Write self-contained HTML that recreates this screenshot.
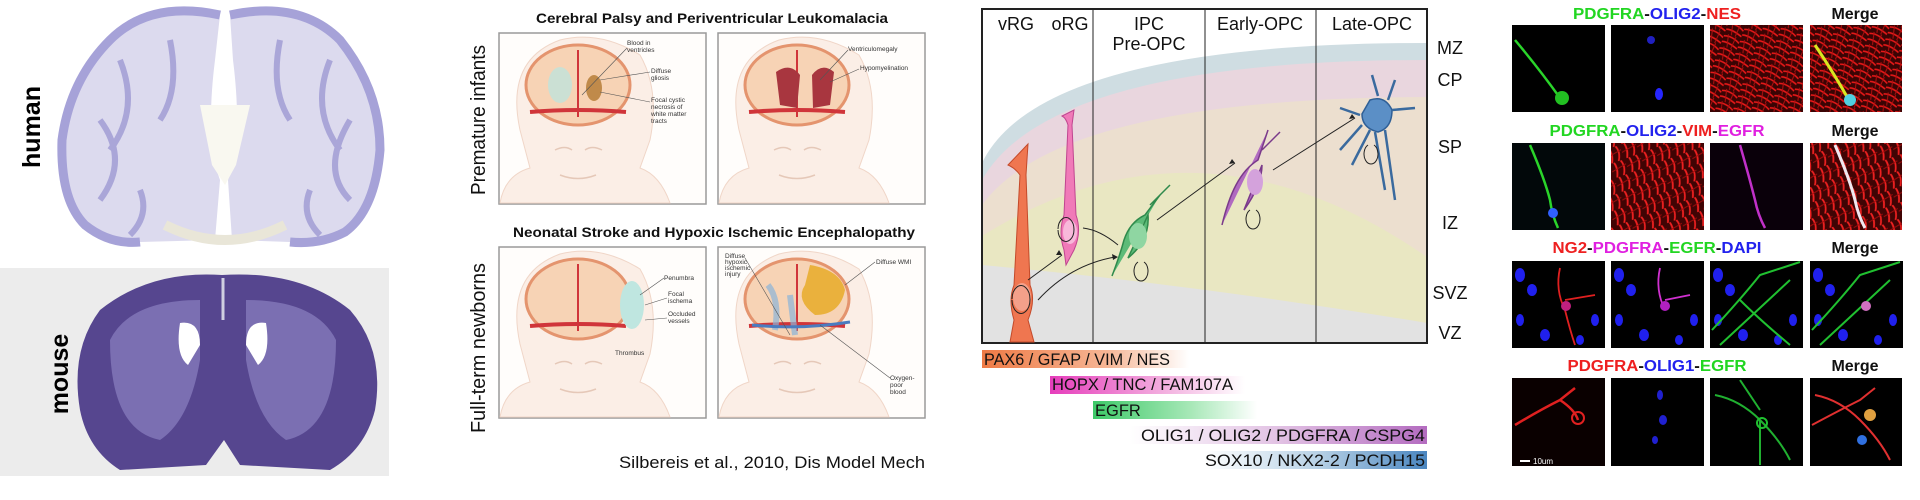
<!DOCTYPE html>
<html><head><meta charset="utf-8"><style>
html,body{margin:0;padding:0;background:#fff;}
svg{display:block;}
text{font-family:"Liberation Sans",sans-serif;}
</style></head><body>
<svg width="1920" height="500" viewBox="0 0 1920 500" xmlns="http://www.w3.org/2000/svg">
<defs>
<pattern id="redtex" width="17" height="13" patternUnits="userSpaceOnUse" patternTransform="rotate(20)">
<rect width="17" height="13" fill="#3a0404"/>
<path d="M0,3 Q8,0 17,5 M0,9 Q6,7 17,11" stroke="#e81818" stroke-width="1.6" fill="none"/>
<path d="M4,0 L7,13 M12,0 L11,13" stroke="#b01010" stroke-width="1"/>
</pattern>
<pattern id="redtex2" width="15" height="16" patternUnits="userSpaceOnUse" patternTransform="rotate(70)">
<rect width="15" height="16" fill="#400404"/>
<path d="M0,4 Q7,1 15,6 M0,11 Q7,9 15,13" stroke="#ee2020" stroke-width="1.8" fill="none"/>
<path d="M5,0 L8,16" stroke="#a00c0c" stroke-width="1"/>
</pattern>
<linearGradient id="gPax" x1="0" x2="1"><stop offset="0" stop-color="#ee7a45"/><stop offset="0.6" stop-color="#f6b594"/><stop offset="1" stop-color="#fff"/></linearGradient>
<linearGradient id="gHop" x1="0" x2="1"><stop offset="0" stop-color="#e63dbb"/><stop offset="0.6" stop-color="#f3b2e0"/><stop offset="1" stop-color="#fff"/></linearGradient>
<linearGradient id="gEgf" x1="0" x2="1"><stop offset="0" stop-color="#3dc968"/><stop offset="0.6" stop-color="#a8e8b8"/><stop offset="1" stop-color="#fff"/></linearGradient>
<linearGradient id="gOli" x1="0" x2="1"><stop offset="0" stop-color="#fff"/><stop offset="0.5" stop-color="#e2c2e4"/><stop offset="1" stop-color="#b46cc0"/></linearGradient>
<linearGradient id="gSox" x1="0" x2="1"><stop offset="0" stop-color="#fff"/><stop offset="0.5" stop-color="#b9d2e6"/><stop offset="1" stop-color="#4a86c0"/></linearGradient>
</defs>

<!-- ===== Panel 1: brains ===== -->
<text transform="translate(40,127) rotate(-90)" text-anchor="middle" font-size="25" font-weight="bold" fill="#000">human</text>
<path d="M220,15 Q150,0 110,40 Q70,80 62,140 Q60,200 85,225 Q110,245 140,242 L215,240 L220,180 Q205,140 215,60 Z" fill="#dcdaee"/>
<path d="M230,15 Q300,0 340,40 Q380,90 380,150 Q375,210 345,232 Q320,245 290,242 L232,240 L228,180 Q243,140 233,60 Z" fill="#dcdaee"/>
<path d="M220,15 Q150,0 110,40 Q70,80 62,140 Q60,200 85,225 Q110,245 140,242 M230,15 Q300,0 340,40 Q380,90 380,150 Q375,210 345,232 Q320,245 290,242" fill="none" stroke="#a6a2d8" stroke-width="9"/>
<path d="M120,60 Q140,110 110,150 M100,120 Q130,160 100,200 M330,60 Q310,110 340,150 M350,120 Q320,170 350,200 M170,40 Q180,90 160,120 M280,40 Q270,90 290,120 M140,190 Q150,215 130,235 M310,190 Q300,215 320,235" fill="none" stroke="#aaa6d8" stroke-width="6"/>
<path d="M200,105 L250,105 L236,165 L225,185 L212,165 Z" fill="#f9f8f0"/>
<path d="M165,225 Q225,255 285,225" stroke="#e9e6d8" stroke-width="10" fill="none"/>

<rect x="0" y="268" width="389" height="208" fill="#ececec"/>
<text transform="translate(68,374) rotate(-90)" text-anchor="middle" font-size="25" font-weight="bold" fill="#000">mouse</text>
<path d="M222,275 Q300,270 350,310 Q385,350 375,410 Q365,450 330,470 L240,465 L224,440 L206,465 L120,470 Q88,450 80,410 Q70,350 100,310 Q150,270 222,275 Z" fill="#56468f"/>
<path d="M110,340 Q130,300 200,300 L200,360 Q190,420 160,440 Q110,430 110,340 Z M336,340 Q316,300 246,300 L246,360 Q256,420 286,440 Q336,430 336,340 Z" fill="#7b6fb2"/>
<path d="M180,323 Q200,320 200,345 L188,365 Q175,355 180,323 Z M266,323 Q246,320 246,345 L258,365 Q271,355 266,323 Z" fill="#fff"/>
<path d="M223,278 L223,320" stroke="#cfcfe0" stroke-width="3"/>

<!-- ===== Panel 2: illustrations ===== -->
<text x="712" y="23" text-anchor="middle" font-size="14" font-weight="bold" fill="#111" textLength="352" lengthAdjust="spacingAndGlyphs">Cerebral Palsy and Periventricular Leukomalacia</text>
<text transform="translate(485,120) rotate(-90)" text-anchor="middle" font-size="20" fill="#111" textLength="150" lengthAdjust="spacingAndGlyphs">Premature infants</text>
<text x="714" y="237" text-anchor="middle" font-size="14" font-weight="bold" fill="#111" textLength="402" lengthAdjust="spacingAndGlyphs">Neonatal Stroke and Hypoxic Ischemic Encephalopathy</text>
<text transform="translate(485,348) rotate(-90)" text-anchor="middle" font-size="20" fill="#111" textLength="170" lengthAdjust="spacingAndGlyphs">Full-term newborns</text>
<text x="925" y="468" text-anchor="end" font-size="17" fill="#111" textLength="306" lengthAdjust="spacingAndGlyphs">Silbereis et al., 2010, Dis Model Mech</text>

<g id="b1">
<rect x="499" y="33" width="207" height="171" fill="#fffdfb" stroke="#9a9a9a" stroke-width="1.5"/>
<path d="M500,203 Q505,175 530,168 L520,130 Q505,60 560,40 Q600,30 640,55 Q660,90 650,140 L640,168 Q660,175 670,203 Z" fill="#fbeee6" stroke="#f0d6c8"/>
<ellipse cx="578" cy="85" rx="52" ry="40" fill="#f7d3b5" stroke="#e4946e" stroke-width="3"/>
<path d="M530,112 Q578,108 626,112" stroke="#d0353a" stroke-width="4" fill="none"/>
<path d="M578,50 L578,117" stroke="#d0353a" stroke-width="2"/>
<path d="M560,175 Q578,182 596,175 M555,150 Q565,145 572,150 M585,150 Q592,145 602,150" stroke="#e5c8b8" stroke-width="1.5" fill="none"/>
</g>
<ellipse cx="560" cy="85" rx="12" ry="18" fill="#bfe4dc" opacity="0.8"/>
<ellipse cx="594" cy="88" rx="8" ry="13" fill="#c08a4a"/>
<text font-size="6.5" fill="#333"><tspan x="627" y="45">Blood in</tspan><tspan x="627" y="52">ventricles</tspan><tspan x="651" y="73">Diffuse</tspan><tspan x="651" y="80">gliosis</tspan><tspan x="651" y="102">Focal cystic</tspan><tspan x="651" y="109">necrosis of</tspan><tspan x="651" y="116">white matter</tspan><tspan x="651" y="123">tracts</tspan></text>
<path d="M627,48 L582,95 M650,72 L600,80 M650,102 L600,92" stroke="#555" stroke-width="0.6"/>

<use href="#b1" x="219"/>
<path d="M776,72 Q790,62 800,75 L797,108 L780,105 Z M812,75 Q822,62 834,72 L830,105 L813,108 Z" fill="#a8363f"/>
<text font-size="6.5" fill="#333"><tspan x="848" y="51">Ventriculomegaly</tspan><tspan x="860" y="70">Hypomyelination</tspan></text>
<path d="M848,50 L820,80 M859,69 L830,82" stroke="#555" stroke-width="0.6"/>

<use href="#b1" y="214"/>
<ellipse cx="632" cy="305" rx="12" ry="24" fill="#bfe6e0"/>
<text font-size="6.5" fill="#333"><tspan x="664" y="280">Penumbra</tspan><tspan x="668" y="296">Focal</tspan><tspan x="668" y="303">ischema</tspan><tspan x="668" y="316">Occluded</tspan><tspan x="668" y="323">vessels</tspan><tspan x="615" y="355">Thrombus</tspan></text>
<path d="M664,278 L640,295 M667,298 L645,305 M667,318 L645,320" stroke="#555" stroke-width="0.6"/>

<use href="#b1" x="219" y="214"/>
<path d="M810,265 Q840,270 845,290 Q840,315 815,315 Q795,300 805,285 Z" fill="#e8aa28" opacity="0.85"/>
<path d="M768,285 Q780,300 775,330 M790,295 L795,335" stroke="#8ab4d8" stroke-width="6" fill="none" opacity="0.7"/>
<path d="M752,325 Q800,330 850,322" stroke="#4a7cc0" stroke-width="3" fill="none"/>
<text font-size="6.5" fill="#333"><tspan x="725" y="258">Diffuse</tspan><tspan x="725" y="264">hypoxic</tspan><tspan x="725" y="270">ischemic</tspan><tspan x="725" y="276">injury</tspan><tspan x="876" y="264">Diffuse WMI</tspan><tspan x="890" y="380">Oxygen-</tspan><tspan x="890" y="387">poor</tspan><tspan x="890" y="394">blood</tspan></text>
<path d="M745,258 L790,335 M875,262 L845,285 M890,378 L820,325" stroke="#555" stroke-width="0.6"/>

<!-- ===== Panel 3: diagram ===== -->
<rect x="982" y="9" width="445" height="334" fill="#fff"/>
<path d="M982,163 Q1040,43 1427,43 L1427,343 L982,343 Z" fill="#cfdde2"/>
<path d="M982,180 Q1050,60 1427,60 L1427,343 L982,343 Z" fill="#e9d6de"/>
<path d="M982,205 Q1060,98 1427,97 L1427,343 L982,343 Z" fill="#ecdfcf"/>
<path d="M982,236 Q1200,100 1427,257 L1427,343 L982,343 Z" fill="#e9e7c2"/>
<path d="M982,265 Q1200,285 1427,323 L1427,343 L982,343 Z" fill="#e2e2e2"/>
<rect x="982" y="9" width="445" height="334" fill="none" stroke="#222" stroke-width="2"/>
<path d="M1093,10 V343 M1205,10 V343 M1316,10 V343" stroke="#222" stroke-width="1"/>
<g font-size="18" fill="#111" text-anchor="middle">
<text x="1016" y="30">vRG</text><text x="1070" y="30">oRG</text>
<text x="1149" y="30">IPC</text><text x="1149" y="50">Pre-OPC</text>
<text x="1260" y="30">Early-OPC</text><text x="1372" y="30">Late-OPC</text>
<text x="1450" y="54">MZ</text><text x="1450" y="86">CP</text><text x="1450" y="153">SP</text>
<text x="1450" y="229">IZ</text><text x="1450" y="299">SVZ</text><text x="1450" y="339">VZ</text>
</g>
<path d="M1010,342 L1014,320 Q1008,300 1014,285 L1020,175 Q1015,168 1008,165 L1028,144 L1026,175 L1030,285 Q1036,300 1028,320 L1034,342 Z" fill="#ef7650" stroke="#c44a2a" stroke-width="1"/>
<ellipse cx="1022" cy="297" rx="9" ry="14" fill="#f4a08a"/>
<path d="M1066,265 L1064,250 Q1058,232 1064,215 L1068,125 Q1066,118 1062,116 L1074,110 L1072,125 L1076,215 Q1082,232 1074,250 Z" fill="#f07ab8" stroke="#c04590" stroke-width="1"/>
<ellipse cx="1070" cy="232" rx="7" ry="12" fill="#f8b8da"/>
<path d="M1112,276 Q1120,255 1124,240 Q1130,222 1145,215 L1160,195 M1150,205 L1170,185 M1148,215 Q1150,240 1128,258 Z" fill="#5dbb78" stroke="#2f8a4c" stroke-width="1.5"/>
<ellipse cx="1138" cy="236" rx="9" ry="13" fill="#8fd6a2"/>
<path d="M1222,225 Q1228,200 1236,185 Q1245,168 1258,160 L1268,130 M1262,150 L1280,132 M1262,165 Q1262,185 1244,210 Z" fill="#b06ac0" stroke="#7a3a8a" stroke-width="1.5"/>
<ellipse cx="1255" cy="182" rx="8" ry="13" fill="#d4a2dc"/>
<path d="M1370,100 Q1385,95 1392,110 Q1392,128 1378,132 Q1362,128 1362,114 Z" fill="#5b8fc6" stroke="#2f5f96" stroke-width="1.5"/>
<path d="M1360,115 L1340,108 M1362,125 L1340,150 M1385,130 L1395,200 M1375,132 L1385,190 M1392,110 L1415,108 M1378,96 L1372,75 M1388,100 L1395,80 M1370,130 L1352,165" stroke="#3a6a9e" stroke-width="2.5" fill="none"/>
<g stroke="#222" stroke-width="1" fill="none">
<path d="M1028,280 L1062,255 M1038,300 Q1070,265 1115,257 M1083,228 Q1100,230 1118,245 M1157,220 L1235,163 M1273,170 L1355,118"/>
<path d="M1012,300 a9,14 0 1,0 0,-1 M1058,230 a8,12 0 1,0 0,-1 M1138,262 a7,10 0 1,0 6,0 M1250,210 a7,10 0 1,0 6,0 M1368,145 a7,10 0 1,0 6,0"/>
</g>
<g fill="#222"><path d="M1062,255 l-6,0 l3,-5 z M1118,257 l-6,-3 l1,6 z M1235,163 l-6,1 l3,-5 z M1355,118 l-6,1 l3,-5 z"/></g>
<rect x="982" y="350" width="207" height="18" fill="url(#gPax)"/>
<rect x="1050" y="376" width="195" height="18" fill="url(#gHop)"/>
<rect x="1093" y="401" width="164" height="18" fill="url(#gEgf)"/>
<rect x="1130" y="426" width="297" height="18" fill="url(#gOli)"/>
<rect x="1205" y="451" width="222" height="18" fill="url(#gSox)"/>
<g font-size="16.5" fill="#111">
<text x="984" y="365" textLength="186" lengthAdjust="spacingAndGlyphs">PAX6 / GFAP / VIM / NES</text>
<text x="1052" y="390" textLength="181" lengthAdjust="spacingAndGlyphs">HOPX / TNC / FAM107A</text>
<text x="1095" y="416">EGFR</text>
<text x="1141" y="441" textLength="284" lengthAdjust="spacingAndGlyphs">OLIG1 / OLIG2 / PDGFRA / CSPG4</text>
<text x="1205" y="466" textLength="220" lengthAdjust="spacingAndGlyphs">SOX10 / NKX2-2 / PCDH15</text>
</g>

<!-- ===== Panel 4: microscopy ===== -->
<g font-size="16" font-weight="bold">
<text x="1657" y="19" text-anchor="middle" textLength="168" lengthAdjust="spacingAndGlyphs"><tspan fill="#22d622">PDGFRA</tspan><tspan fill="#111">-</tspan><tspan fill="#2222ee">OLIG2</tspan><tspan fill="#111">-</tspan><tspan fill="#ee2020">NES</tspan></text>
<text x="1657" y="136" text-anchor="middle" textLength="215" lengthAdjust="spacingAndGlyphs"><tspan fill="#22d622">PDGFRA</tspan><tspan fill="#111">-</tspan><tspan fill="#2222ee">OLIG2</tspan><tspan fill="#111">-</tspan><tspan fill="#ee2020">VIM</tspan><tspan fill="#111">-</tspan><tspan fill="#e020e0">EGFR</tspan></text>
<text x="1657" y="253" text-anchor="middle" textLength="209" lengthAdjust="spacingAndGlyphs"><tspan fill="#ee2020">NG2</tspan><tspan fill="#111">-</tspan><tspan fill="#e020e0">PDGFRA</tspan><tspan fill="#111">-</tspan><tspan fill="#22d622">EGFR</tspan><tspan fill="#111">-</tspan><tspan fill="#2222ee">DAPI</tspan></text>
<text x="1657" y="371" text-anchor="middle" textLength="179" lengthAdjust="spacingAndGlyphs"><tspan fill="#ee2020">PDGFRA</tspan><tspan fill="#111">-</tspan><tspan fill="#2222ee">OLIG1</tspan><tspan fill="#111">-</tspan><tspan fill="#22d622">EGFR</tspan></text>
<g fill="#111" text-anchor="middle"><text x="1855" y="19">Merge</text><text x="1855" y="136">Merge</text><text x="1855" y="253">Merge</text><text x="1855" y="371">Merge</text></g>
</g>
<rect x="1512" y="25" width="93" height="87" fill="#000"/>
<path d="M1515,40 Q1540,70 1560,98" stroke="#2ad42a" stroke-width="2.5" fill="none"/><circle cx="1562" cy="98" r="7" fill="#22c022"/>
<rect x="1611" y="25" width="93" height="87" fill="#000"/>
<circle cx="1651" cy="40" r="4" fill="#2020c0"/><ellipse cx="1659" cy="94" rx="4" ry="6" fill="#2626ff"/>
<rect x="1710" y="25" width="93" height="87" fill="url(#redtex)"/>
<rect x="1810" y="25" width="92" height="87" fill="url(#redtex)"/>
<path d="M1815,45 Q1835,75 1850,102" stroke="#d8e820" stroke-width="3" fill="none"/><circle cx="1850" cy="100" r="6" fill="#50d0e0"/>
<rect x="1512" y="143" width="93" height="87" fill="#02080a"/>
<path d="M1530,145 Q1545,180 1550,200 Q1552,215 1558,228" stroke="#2ad42a" stroke-width="2.5" fill="none"/><circle cx="1553" cy="213" r="5" fill="#3060ff"/>
<rect x="1611" y="143" width="93" height="87" fill="url(#redtex2)"/>
<rect x="1710" y="143" width="93" height="87" fill="#0a000a"/>
<path d="M1740,145 Q1750,180 1755,200 Q1758,215 1765,228" stroke="#c030c8" stroke-width="2.5" fill="none"/>
<rect x="1810" y="143" width="92" height="87" fill="url(#redtex2)"/>
<path d="M1835,145 Q1850,180 1855,200 Q1858,215 1865,228" stroke="#f0e8f0" stroke-width="3" fill="none"/>
<g id="r3b">
<rect x="1512" y="261" width="93" height="87" fill="#000"/>
<ellipse cx="1520" cy="275" rx="5" ry="7" fill="#2020ee"/><ellipse cx="1532" cy="290" rx="5" ry="6" fill="#2020ee"/><ellipse cx="1520" cy="320" rx="4" ry="6" fill="#2020ee"/><ellipse cx="1545" cy="335" rx="5" ry="6" fill="#2020ee"/><ellipse cx="1595" cy="320" rx="4" ry="6" fill="#2020ee"/><ellipse cx="1580" cy="340" rx="4" ry="5" fill="#2020ee"/>
</g>
<path d="M1560,268 Q1555,290 1565,310 Q1570,330 1575,345 M1565,300 L1595,295" stroke="#e02020" stroke-width="1.8" fill="none"/><circle cx="1566" cy="306" r="5" fill="#c02080"/>
<use href="#r3b" x="99"/>
<path d="M1660,268 Q1655,290 1665,310 M1665,300 L1690,295" stroke="#d030d0" stroke-width="1.8" fill="none"/><circle cx="1665" cy="306" r="5" fill="#b020c0"/>
<use href="#r3b" x="198"/>
<path d="M1712,330 Q1740,300 1760,275 L1800,262 M1720,345 L1790,280 M1740,300 Q1760,320 1790,345" stroke="#20c030" stroke-width="2" fill="none"/>
<use href="#r3b" x="298"/>
<path d="M1812,330 Q1840,300 1860,275 L1900,262 M1820,345 L1890,280" stroke="#20c030" stroke-width="2" fill="none"/><circle cx="1866" cy="306" r="5" fill="#d070c0"/>
<rect x="1512" y="378" width="93" height="88" fill="#0a0000"/>
<path d="M1515,425 Q1540,410 1560,400 L1575,388 M1560,400 Q1575,410 1578,420" stroke="#e02020" stroke-width="2.5" fill="none"/><circle cx="1578" cy="418" r="6" fill="none" stroke="#e02020" stroke-width="2"/>
<path d="M1520,461 H1530" stroke="#fff" stroke-width="2"/><text x="1533" y="464" font-size="8" fill="#fff">10um</text>
<rect x="1611" y="378" width="93" height="88" fill="#000"/>
<ellipse cx="1660" cy="395" rx="3" ry="5" fill="#2020d0"/><ellipse cx="1663" cy="420" rx="4" ry="5" fill="#2020d0"/><ellipse cx="1655" cy="440" rx="3" ry="4" fill="#2020d0"/>
<rect x="1710" y="378" width="93" height="88" fill="#000"/>
<path d="M1715,395 Q1740,400 1760,420 Q1780,440 1790,460 M1740,380 L1760,410 M1760,420 L1760,465" stroke="#20b030" stroke-width="2" fill="none"/><circle cx="1762" cy="423" r="5" fill="none" stroke="#20c030" stroke-width="2"/>
<rect x="1810" y="378" width="92" height="88" fill="#000"/>
<path d="M1812,425 Q1840,410 1860,400 L1875,388 M1815,395 Q1840,400 1860,420 Q1880,440 1890,460" stroke="#e03030" stroke-width="2" fill="none"/><circle cx="1870" cy="415" r="6" fill="#e0a040"/><circle cx="1862" cy="440" r="5" fill="#3070e0"/>
</svg>
</body></html>
